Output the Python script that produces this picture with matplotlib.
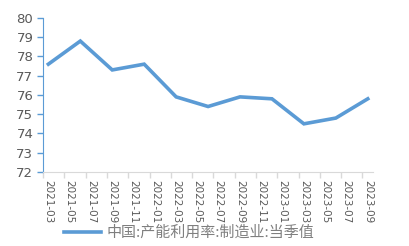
import matplotlib
matplotlib.use("Agg")
import matplotlib.pyplot as plt
import numpy as np

plt.rcParams['font.family'] = ['Noto Sans CJK SC', 'DejaVu Sans']

# monthly axis from 2021-03 to 2023-09, data quarterly
months = ['2021-03', '2021-04', '2021-05', '2021-06', '2021-07', '2021-08', '2021-09',
          '2021-10', '2021-11', '2021-12', '2022-01', '2022-02', '2022-03', '2022-04',
          '2022-05', '2022-06', '2022-07', '2022-08', '2022-09', '2022-10', '2022-11',
          '2022-12', '2023-01', '2023-02', '2023-03', '2023-04', '2023-05', '2023-06',
          '2023-07', '2023-08', '2023-09']
data_months = ['2021-03', '2021-06', '2021-09', '2021-12', '2022-03', '2022-06',
               '2022-09', '2022-12', '2023-03', '2023-06', '2023-09']
values = [77.6, 78.8, 77.3, 77.6, 75.9, 75.4, 75.9, 75.8, 74.5, 74.8, 75.8]
label = '中国:产能利用率:制造业:当季值'

blue = '#5B9BD5'
grey_txt = '#595959'

fig = plt.figure(figsize=(4.1, 2.46), dpi=100)
ax = fig.add_axes([0.105, 0.301, 0.805, 0.626])

xs = [months.index(m) for m in data_months]
ax.plot(xs, values, color=blue, lw=2.6, solid_joinstyle='miter', label=label)

ax.set_xlim(-0.5, len(months) - 0.5)
ax.set_ylim(72, 80)
ax.set_yticks(range(72, 81))

# labels every 2 months at slot centres, tick marks at slot edges
lab_idx = list(range(0, len(months), 2))
ax.set_xticks(lab_idx)
ax.set_xticklabels([months[i] for i in lab_idx], rotation=270, fontsize=7.5,
                   color=grey_txt, family='DejaVu Sans')
ax.set_xticks([i - 0.5 for i in lab_idx], minor=True)
ax.tick_params(axis='x', which='major', length=0, pad=6)
ax.tick_params(axis='x', which='minor', length=4, color='#D9D9D9', width=1)
ax.tick_params(axis='y', length=4, color=blue, width=1, labelsize=9.5,
               labelcolor=grey_txt, pad=3)
for t in ax.get_yticklabels():
    t.set_family('DejaVu Sans')

for s in ['top', 'right']:
    ax.spines[s].set_visible(False)
ax.spines['left'].set_color(blue)
ax.spines['bottom'].set_color('#D9D9D9')

leg = fig.legend(loc='center', bbox_to_anchor=(0.461, 0.053), frameon=False,
                 fontsize=10.8, handlelength=2.5, handletextpad=0.35)
for t in leg.get_texts():
    t.set_color('#7F7F7F')

fig.savefig('out.png', dpi=100)
